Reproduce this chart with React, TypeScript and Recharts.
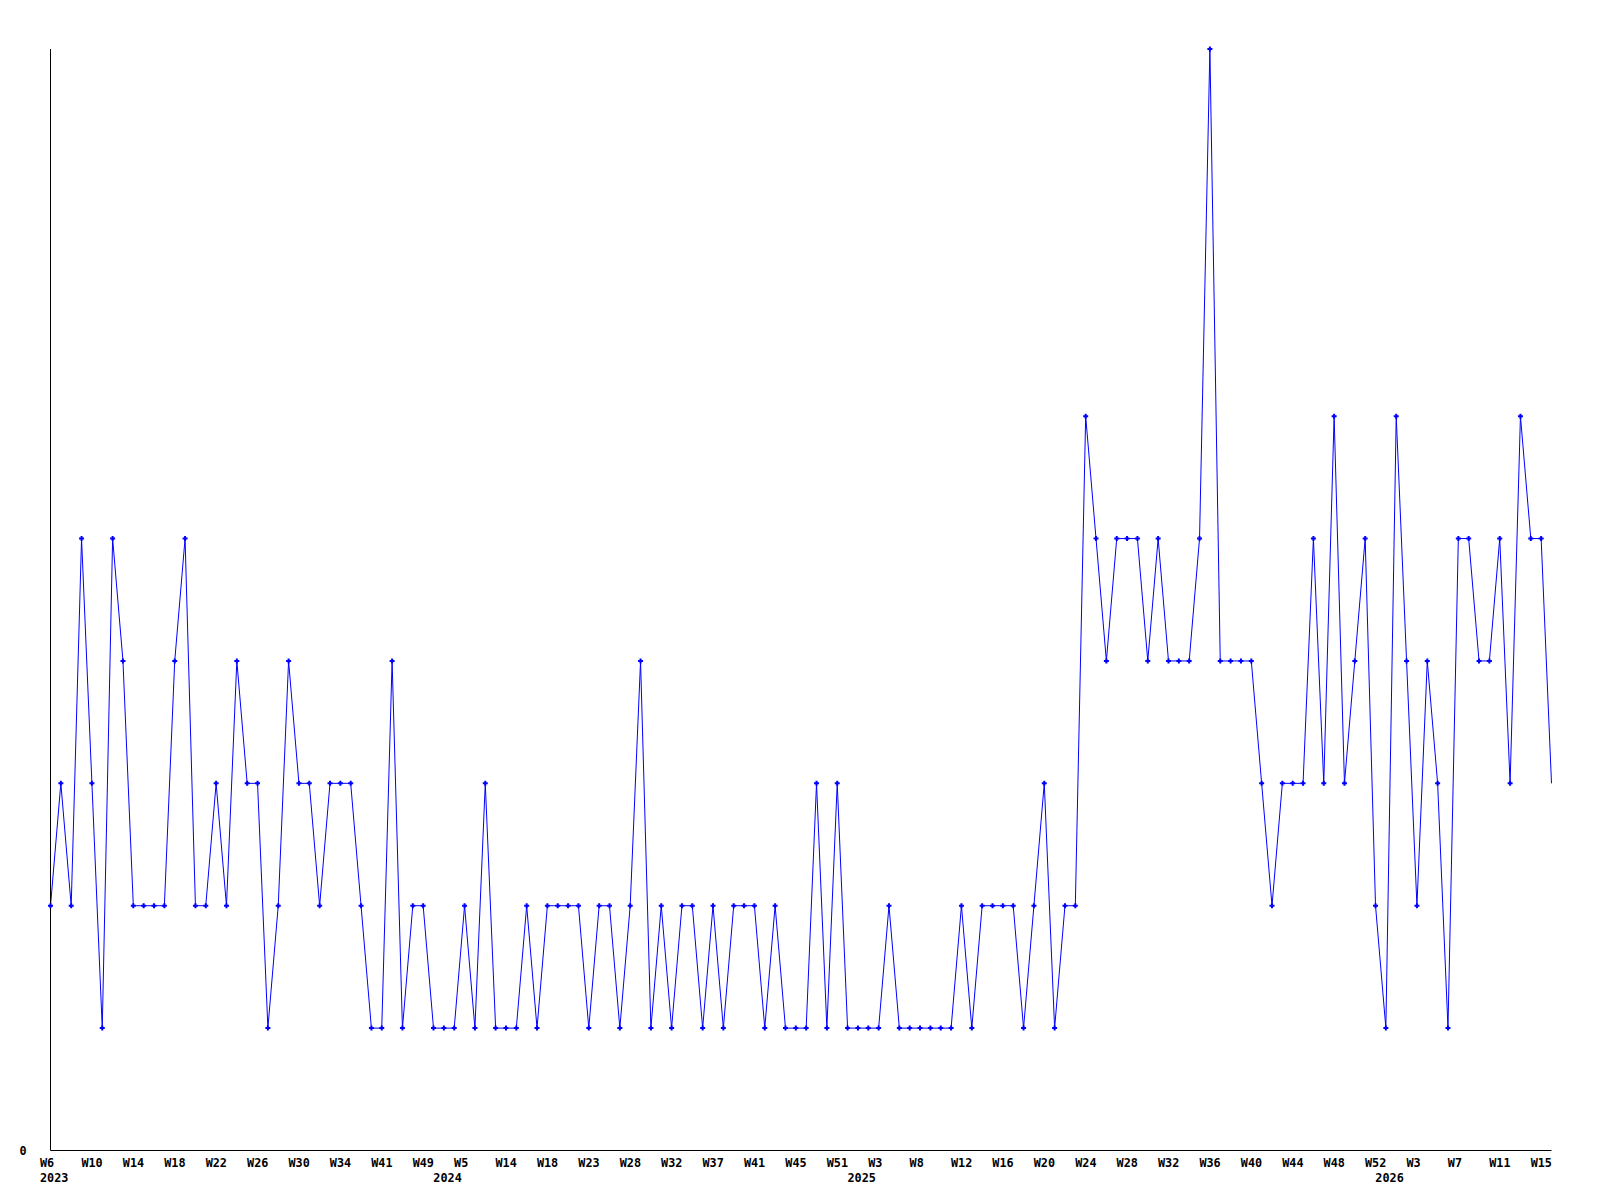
import { CartesianGrid, Line, LineChart, XAxis, YAxis } from "recharts";

// week labels per year, in the order the points appear
const weeks2023 = [
  "W6", "W7", "W8", "W9", "W10", "W11", "W12", "W13", "W14", "W15",
  "W16", "W17", "W18", "W19", "W20", "W21", "W22", "W23", "W24", "W25",
  "W26", "W27", "W28", "W29", "W30", "W31", "W32", "W33", "W34", "W36",
  "W38", "W40", "W41", "W43", "W45", "W47", "W49", "W51",
];
const weeks2024 = [
  "W1", "W3", "W5", "W7", "W10", "W12", "W14", "W15", "W16", "W17",
  "W18", "W19", "W20", "W22", "W23", "W24", "W26", "W27", "W28", "W29",
  "W30", "W31", "W32", "W33", "W35", "W36", "W37", "W38", "W39", "W40",
  "W41", "W42", "W43", "W44", "W45", "W47", "W48", "W49", "W51", "W52",
];
const weeks2025 = [
  "W1", "W2", "W3", "W4", "W6", "W7", "W8", "W9", "W10", "W11",
  "W12", "W13", "W14", "W15", "W16", "W17", "W18", "W19", "W20", "W21",
  "W22", "W23", "W24", "W25", "W26", "W27", "W28", "W29", "W30", "W31",
  "W32", "W33", "W34", "W35", "W36", "W37", "W38", "W39", "W40", "W41",
  "W42", "W43", "W44", "W45", "W46", "W47", "W48", "W49", "W50", "W51",
  "W52",
];
const weeks2026 = [
  "W0", "W1", "W2", "W3", "W4", "W5", "W6", "W7", "W8", "W9",
  "W10", "W11", "W12", "W13", "W14", "W15", "W16",
];

const counts = [
  2, 3, 2, 5, 3, 1, 5, 4, 2, 2,
  2, 2, 4, 5, 2, 2, 3, 2, 4, 3,
  3, 1, 2, 4, 3, 3, 2, 3, 3, 3,
  2, 1, 1, 4, 1, 2, 2, 1, 1, 1,
  2, 1, 3, 1, 1, 1, 2, 1, 2, 2,
  2, 2, 1, 2, 2, 1, 2, 4, 1, 2,
  1, 2, 2, 1, 2, 1, 2, 2, 2, 1,
  2, 1, 1, 1, 3, 1, 3, 1, 1, 1,
  1, 2, 1, 1, 1, 1, 1, 1, 2, 1,
  2, 2, 2, 2, 1, 2, 3, 1, 2, 2,
  6, 5, 4, 5, 5, 5, 4, 5, 4, 4,
  4, 5, 9, 4, 4, 4, 4, 3, 2, 3,
  3, 3, 5, 3, 6, 3, 4, 5, 2, 1,
  6, 4, 2, 4, 3, 1, 5, 5, 4, 4,
  5, 3, 6, 5, 5, 3,
];

const years: [string, string[]][] = [
  ["2023", weeks2023],
  ["2024", weeks2024],
  ["2025", weeks2025],
  ["2026", weeks2026],
];

const rows = years.flatMap(([year, wks]) =>
  wks.map((week, i) => ({ key: `${year}-${week}`, week, year, first: i === 0 })),
);
const data = rows.map((r, i) => ({ ...r, value: counts[i] }));

const FONT = "'DejaVu Sans Mono', monospace";

function WeekTick(props: any) {
  const { x, y, index } = props;
  const row = data[index];
  if (!row) return null;
  return (
    <g>
      {index % 4 === 0 && (
        <text x={x - 10.5} y={y + 16.5} textAnchor="start" fontFamily={FONT} fontWeight="bold" fontSize={11.8} fill="#000">
          {row.week}
        </text>
      )}
      {row.first && (
        <text x={x - 10.5} y={y + 31} textAnchor="start" fontFamily={FONT} fontWeight="bold" fontSize={11.8} fill="#000">
          {row.year}
        </text>
      )}
    </g>
  );
}

function ValueTick(props: any) {
  const { x, y, payload } = props;
  return (
    <text x={x - 27.5} y={y + 4.5} textAnchor="middle" fontFamily={FONT} fontWeight="bold" fontSize={11.8} fill="#000">
      {payload.value}
    </text>
  );
}

function PlusDot(props: any) {
  const { cx, cy, index } = props;
  if (index === data.length - 1 || cx == null) return <g key={index} />;
  return (
    <path
      key={index}
      d={`M${cx - 2.5},${cy}h5M${cx},${cy - 2.5}v5`}
      stroke="#0000ff"
      strokeWidth={2}
      fill="none"
    />
  );
}

export default function App() {
  return (
    <div style={{ position: "absolute", left: 0, top: 0, background: "#fff" }}>
      <LineChart width={1600} height={1200} data={data} margin={{ top: 49, right: 48.5, bottom: 0, left: 0.5 }}>
        <CartesianGrid stroke="none" />
        <XAxis
          dataKey="key"
          interval={0}
          height={49.5}
          tickSize={0}
          tickMargin={0}
          tickLine={false}
          axisLine={{ stroke: "#000", strokeWidth: 1 }}
          tick={<WeekTick />}
        />
        <YAxis
          domain={[0, 9]}
          ticks={[0]}
          width={50}
          tickSize={0}
          tickMargin={0}
          tickLine={false}
          axisLine={{ stroke: "#000", strokeWidth: 1 }}
          tick={<ValueTick />}
        />
        <Line
          type="linear"
          dataKey="value"
          stroke="#0000ff"
          strokeWidth={1}
          dot={<PlusDot />}
          activeDot={false}
          isAnimationActive={false}
        />
      </LineChart>
    </div>
  );
}
